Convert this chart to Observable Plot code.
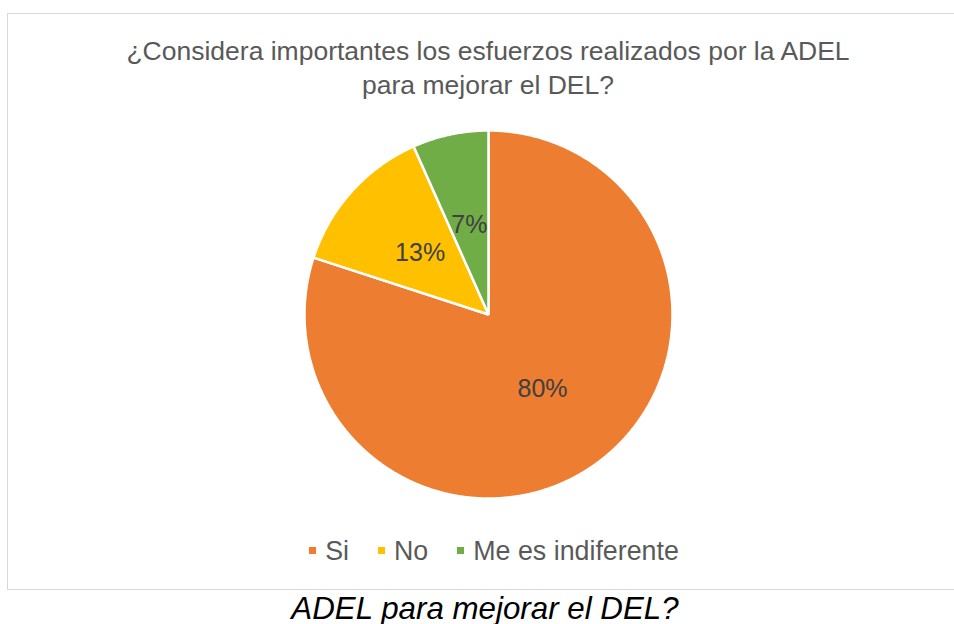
<!DOCTYPE html>
<html><head><meta charset="utf-8">
<script src="https://cdn.jsdelivr.net/npm/d3@7"></script>
<script src="https://cdn.jsdelivr.net/npm/@observablehq/plot@0.6"></script>
<style>
html,body{margin:0;padding:0;background:#fff;}
#page{position:relative;width:954px;height:624px;overflow:hidden;font-family:"Liberation Sans",Arial,sans-serif;}
#frame{position:absolute;left:7px;top:13px;width:960px;height:577px;border:1.5px solid #d9d9d9;box-sizing:border-box;}
#title{position:absolute;left:0;width:976px;top:34px;text-align:center;color:#595959;font-size:26.5px;line-height:34px;}
#chart{position:absolute;left:0;top:110px;}
#legend{position:absolute;left:0;width:988px;top:536px;text-align:center;color:#595959;font-size:26.8px;line-height:30px;white-space:nowrap;}
#legend span.item{margin:0 14.5px;}
#legend i{display:inline-block;width:7px;height:7px;margin-right:9px;vertical-align:middle;position:relative;top:-2px;}
#caption{position:absolute;left:0;width:970px;top:591px;text-align:center;color:#000;font-size:31.3px;line-height:36px;font-style:italic;white-space:nowrap;}
</style></head>
<body><div id="page">
<div id="frame"></div>
<div id="title"></div>
<div id="chart"></div>
<div id="legend"></div>
<div id="caption"></div>
</div>
<script>
const categories = ["Si", "No", "Me es indiferente"];
const counts = [12, 2, 1];
const colors = ["#ED7D31", "#FFC000", "#70AD47"];
const titleLines = ["¿Considera importantes los esfuerzos realizados por la ADEL", "para mejorar el DEL?"];
const captionText = "ADEL para mejorar el DEL?";

const total = d3.sum(counts);
const arcs = d3.pie().sort(null).value(d => d)(counts);
const polys = [];
const labels = [];
arcs.forEach((a, i) => {
  const cat = categories[i];
  polys.push({cat, x: 0, y: 0});
  const n = Math.max(2, Math.ceil((a.endAngle - a.startAngle) / 0.005));
  for (let k = 0; k <= n; k++) {
    const t = a.startAngle + (a.endAngle - a.startAngle) * k / n;
    polys.push({cat, x: Math.sin(t), y: Math.cos(t)});
  }
  const m = (a.startAngle + a.endAngle) / 2;
  labels.push({cat, x: 0.5 * Math.sin(m), y: 0.5 * Math.cos(m), text: Math.round(counts[i] / total * 100) + "%"});
});

const chart = Plot.plot({
  width: 954, height: 408,
  marginLeft: 304, marginRight: 282, marginTop: 20, marginBottom: 20,
  x: {domain: [-1, 1], axis: null},
  y: {domain: [-1, 1], axis: null},
  color: {domain: categories, range: colors},
  style: {fontFamily: '"Liberation Sans", Arial, sans-serif', background: "transparent"},
  marks: [
    Plot.line(polys, {x: "x", y: "y", z: "cat", fill: "cat", stroke: "white", strokeWidth: 2.5, curve: "linear-closed", strokeLinejoin: "miter"}),
    Plot.text(labels, {x: "x", y: "y", text: "text", fontSize: 25, fill: "#404040"})
  ]
});
document.getElementById("chart").appendChild(chart);

document.getElementById("title").innerHTML = titleLines.map(s => `<div>${s}</div>`).join("");
document.getElementById("legend").innerHTML = categories.map((c, i) =>
  `<span class="item"><i style="background:${colors[i]}"></i>${c}</span>`).join("");
document.getElementById("caption").textContent = captionText;
</script>
</body></html>
